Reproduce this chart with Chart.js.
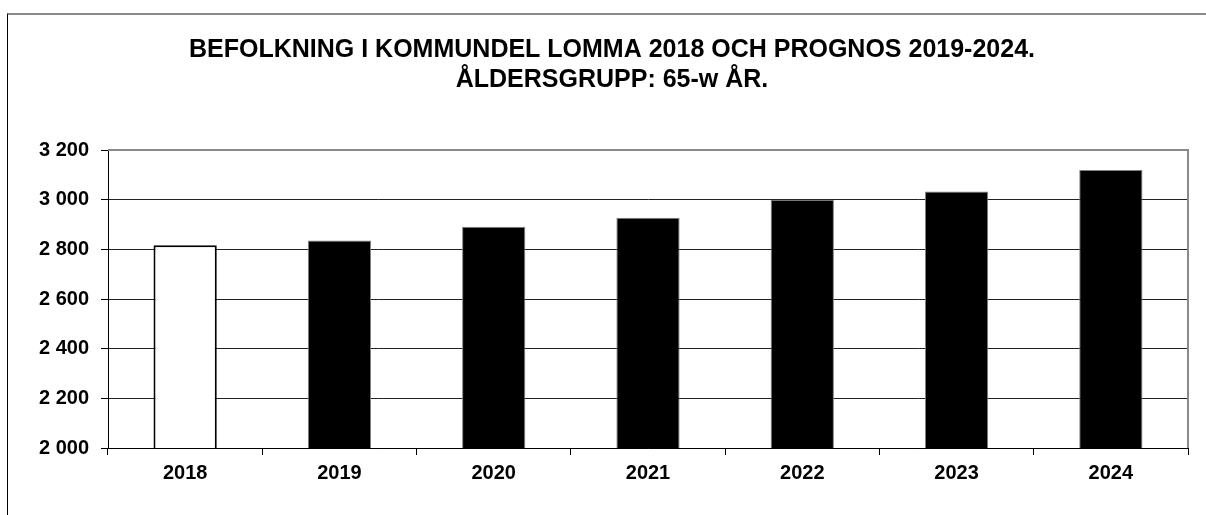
<!DOCTYPE html>
<html>
<head>
<meta charset="utf-8">
<script src="https://cdn.jsdelivr.net/npm/chart.js@4/dist/chart.umd.min.js"></script>
<style>
  html, body { margin: 0; padding: 0; background: #fff; }
  .wrap { position: relative; width: 1206px; height: 515px; overflow: hidden; }
  .frame {
    position: absolute; left: 7px; top: 13px; width: 1300px; height: 600px;
    border-top: 2px solid #8a8a8a; border-left: 1px solid #000;
  }
  #chart { position: absolute; left: 0; top: 0; }
</style>
</head>
<body>
<div class="wrap">
  <div class="frame"></div>
  <canvas id="chart" width="1206" height="515"></canvas>
</div>
<script>
const titleLines = [
  "BEFOLKNING I KOMMUNDEL LOMMA 2018 OCH PROGNOS 2019-2024.",
  "ÅLDERSGRUPP: 65-w ÅR."
];
const years = ["2018", "2019", "2020", "2021", "2022", "2023", "2024"];
const population = [2816, 2836, 2891, 2927, 3000, 3033, 3119];
const yTicks = [2000, 2200, 2400, 2600, 2800, 3000, 3200];

const FONT = '"Liberation Sans", Arial, sans-serif';

// 2018 is the real figure (white bar), the rest are forecast (black bars)
const fills = years.map((y, i) => (i === 0 ? "#ffffff" : "#000000"));
const edges = years.map((y, i) => (i === 0 ? "#000000" : "#808080"));
const edgeWidths = years.map((y, i) => (i === 0 ? 2 : 1));

const plotFrame = {
  id: "plotFrame",
  afterDraw(chart) {
    const { ctx, chartArea: a } = chart;
    ctx.save();
    ctx.strokeStyle = "#8a8a8a";
    ctx.lineWidth = 2;
    ctx.beginPath();
    ctx.moveTo(a.left, a.top);
    ctx.lineTo(a.right, a.top);
    ctx.lineTo(a.right, a.bottom);
    ctx.stroke();
    ctx.restore();
  },
};

new Chart(document.getElementById("chart"), {
  type: "bar",
  data: {
    labels: years,
    datasets: [
      {
        data: population,
        backgroundColor: fills,
        borderColor: edges,
        borderWidth: edgeWidths,
        borderSkipped: false,
        categoryPercentage: 1,
        barPercentage: 0.41,
      },
    ],
  },
  options: {
    responsive: false,
    animation: false,
    devicePixelRatio: 1,
    layout: { padding: { left: 36, right: 18, top: 0, bottom: 0 } },
    plugins: {
      legend: { display: false },
      tooltip: { enabled: false },
      title: {
        display: true,
        text: titleLines,
        color: "#000",
        font: { family: FONT, size: 25, weight: "bold", lineHeight: 1.2 },
        padding: { top: 35, bottom: 55 },
      },
    },
    scales: {
      x: {
        afterFit(scale) { scale.height = 67; },
        grid: {
          display: true,
          drawOnChartArea: false,
          drawTicks: true,
          tickLength: 7,
          tickColor: "#000",
          offset: true,
        },
        border: { display: true, color: "#000", width: 1 },
        ticks: {
          color: "#000",
          padding: 6,
          font: { family: FONT, size: 20, weight: "bold" },
        },
      },
      y: {
        min: 2000,
        max: 3200,
        afterFit(scale) { scale.width = 72; },
        afterBuildTicks(scale) { scale.ticks = yTicks.map((v) => ({ value: v })); },
        grid: {
          color: "#222",
          lineWidth: 1,
          drawTicks: true,
          tickLength: 7,
          tickColor: "#000",
        },
        border: { display: true, color: "#000", width: 1 },
        ticks: {
          color: "#000",
          padding: 12,
          font: { family: FONT, size: 20, weight: "bold" },
          callback: (v) => String(v).replace(/\B(?=(\d{3})+(?!\d))/g, " "),
        },
      },
    },
  },
  plugins: [plotFrame],
});
</script>
</body>
</html>
